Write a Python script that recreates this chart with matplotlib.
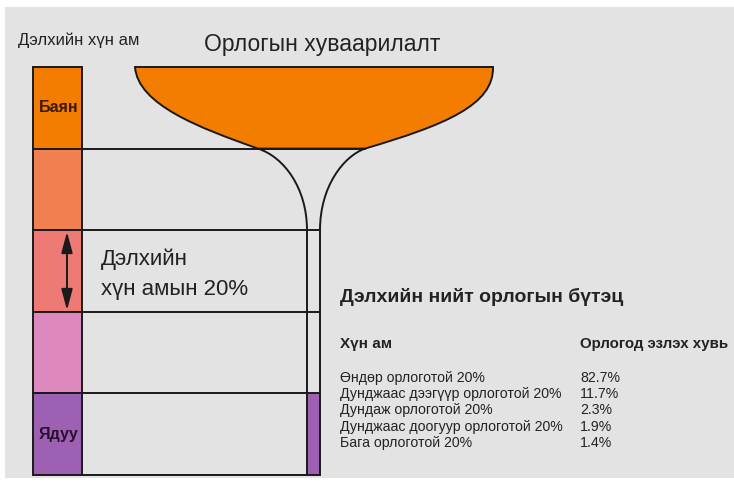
import matplotlib
matplotlib.use("Agg")
import matplotlib.pyplot as plt
from matplotlib.patches import Rectangle, PathPatch, FancyArrowPatch
from matplotlib.path import Path
from matplotlib import font_manager
import numpy as np

# ---------------- data ----------------
pop_shares = [20, 20, 20, 20, 20]               # population quintiles, top (rich) to bottom (poor)
band_colors = ["#f27d00", "#f08050", "#ee7a76", "#dd89c0", "#9d60b3"]
band_labels = ["Баян", "", "", "", "Ядуу"]
row_labels = ["Өндөр орлоготой 20%", "Дунджаас дээгүүр орлоготой 20%",
              "Дундаж орлоготой 20%", "Дунджаас доогуур орлоготой 20%",
              "Бага орлоготой 20%"]
income_shares = [82.7, 11.7, 2.3, 1.9, 1.4]
title_left = "Дэлхийн хүн ам"
title_glass = "Орлогын хуваарилалт"
quintile_note = ["Дэлхийн", "хүн амын 20%"]
table_title = "Дэлхийн нийт орлогын бүтэц"
col_headers = ["Хүн ам", "Орлогод эзлэх хувь"]

# ---------------- fonts ----------------
names = {f.name for f in font_manager.fontManager.ttflist}
narrow = "Liberation Sans Narrow" if "Liberation Sans Narrow" in names else "Liberation Sans"
FAM = [narrow, "DejaVu Sans"]
TXT = "#222222"
EDGE = "#1a1a1a"

W, H = 734, 484
fig = plt.figure(figsize=(W / 100, H / 100), dpi=100, facecolor="white")
ax = fig.add_axes([0, 0, 1, 1])
ax.set_xlim(0, W)
ax.set_ylim(H, 0)
ax.axis("off")

# gray panel
ax.add_patch(Rectangle((5, 7), W - 5, 471, facecolor="#e3e3e3", edgecolor="none", zorder=0))

# ---------------- population column ----------------
col_x0, col_x1 = 33, 82
y_top, y_bot = 67, 475
edges = y_top + np.concatenate([[0], np.cumsum(pop_shares)]) / sum(pop_shares) * (y_bot - y_top)

for i, (c, lab) in enumerate(zip(band_colors, band_labels)):
    ax.add_patch(Rectangle((col_x0, edges[i]), col_x1 - col_x0, edges[i + 1] - edges[i],
                           facecolor=c, edgecolor=EDGE, lw=1.4, zorder=3))
    if lab:
        ax.text((col_x0 + col_x1) / 2 + 1, (edges[i] + edges[i + 1]) / 2, lab, ha="center", va="center",
                fontsize=11.5, fontweight="bold", family=FAM,
                color="#3a1a0c" if i == 0 else "#2a1030", zorder=4)

# ---------------- champagne glass ----------------
stem_l, stem_r = 307, 320
bowl_l, bowl_r = 135, 493
bl_x, br_x = 258, 365      # where bowl outline meets the first band edge

bowl = Path([(bowl_l, edges[0]), (bowl_r, edges[0]),
             (494, 105), (445, 125), (br_x, edges[1]),
             (bl_x, edges[1]),
             (200, 128), (138, 105), (bowl_l, edges[0]),
             (bowl_l, edges[0])],
            [Path.MOVETO, Path.LINETO,
             Path.CURVE4, Path.CURVE4, Path.CURVE4,
             Path.LINETO,
             Path.CURVE4, Path.CURVE4, Path.CURVE4,
             Path.CLOSEPOLY])
ax.add_patch(PathPatch(bowl, facecolor=band_colors[0], edgecolor=EDGE, lw=1.4, zorder=2))

left_stem = Path([(bl_x, edges[1]), (284, 157), (stem_l, 188), (stem_l, edges[2]), (stem_l, edges[5])],
                 [Path.MOVETO, Path.CURVE4, Path.CURVE4, Path.CURVE4, Path.LINETO])
right_stem = Path([(br_x, edges[1]), (344, 156), (stem_r, 186), (stem_r, edges[2]), (stem_r, edges[5])],
                  [Path.MOVETO, Path.CURVE4, Path.CURVE4, Path.CURVE4, Path.LINETO])
ax.add_patch(Rectangle((stem_l, edges[4]), stem_r - stem_l, edges[5] - edges[4],
                       facecolor=band_colors[4], edgecolor="none", zorder=1))
for p in (left_stem, right_stem):
    ax.add_patch(PathPatch(p, facecolor="none", edgecolor=EDGE, lw=1.4, zorder=3))

ax.plot([col_x1, br_x], [edges[1]] * 2, color=EDGE, lw=1.4, zorder=3)
for e in edges[2:]:
    ax.plot([col_x1, stem_r], [e, e], color=EDGE, lw=1.4, zorder=3)

# double arrow in third band
ax.add_patch(FancyArrowPatch((67, edges[2] + 1.5), (67, edges[3] - 1.5),
                             arrowstyle="<|-|>,head_length=0.75,head_width=0.2",
                             mutation_scale=17, color=EDGE, lw=1.4, zorder=4,
                             shrinkA=0, shrinkB=0))

# ---------------- texts ----------------
ax.text(18, 40, title_left, ha="left", va="center", fontsize=12, family=FAM, color=TXT)
ax.text(322, 44, title_glass, ha="center", va="center", fontsize=16.5, family=FAM, color=TXT)
ax.text(101, 259, quintile_note[0], ha="left", va="center", fontsize=16, family=FAM, color=TXT)
ax.text(101, 290, quintile_note[1], ha="left", va="center", fontsize=16, family=FAM, color=TXT)

ax.text(340, 297, table_title, ha="left", va="center", fontsize=14, fontweight="bold",
        family=FAM, color=TXT)
ax.text(340, 344, col_headers[0], ha="left", va="center", fontsize=11, fontweight="bold",
        family=FAM, color=TXT)
ax.text(580, 344, col_headers[1], ha="left", va="center", fontsize=10.8, fontweight="bold",
        family=FAM, color=TXT)
row_y0, row_dy = 378, 16.2
for k, (lab, v) in enumerate(zip(row_labels, income_shares)):
    y = row_y0 + k * row_dy
    ax.text(340, y, lab, ha="left", va="center", fontsize=10.2, family=FAM, color=TXT)
    ax.text(580, y, f"{v:.1f}%", ha="left", va="center", fontsize=10.2, family=FAM, color=TXT)

fig.savefig("out.png", dpi=100, facecolor="white")
